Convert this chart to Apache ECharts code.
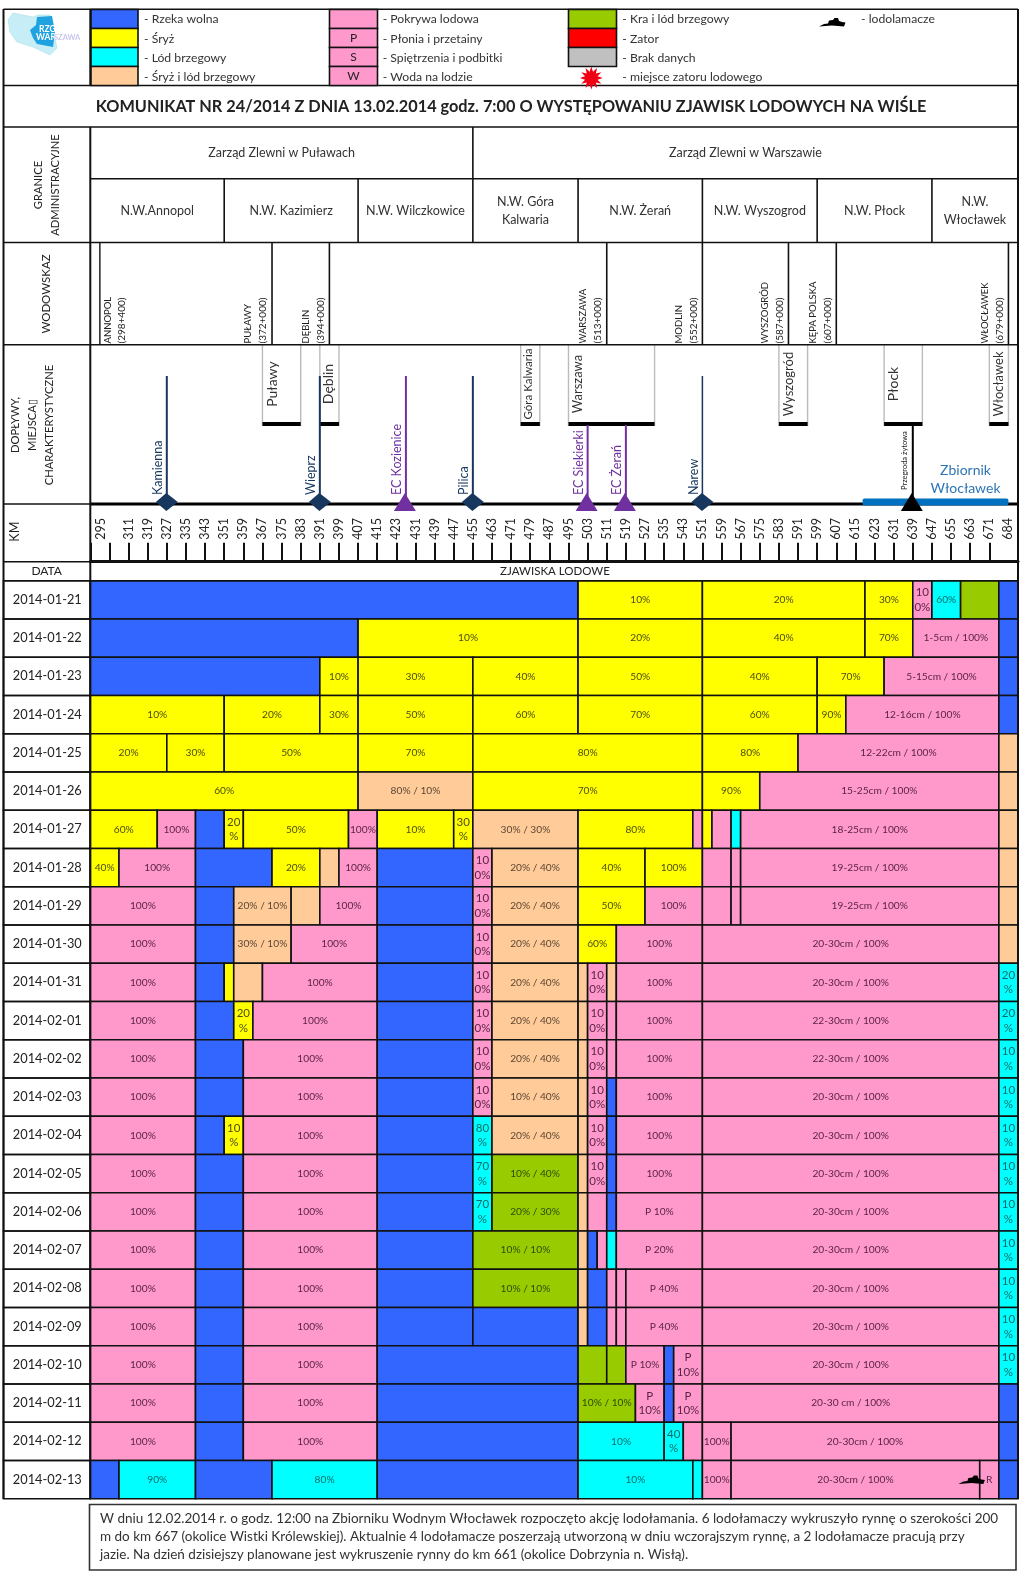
<!DOCTYPE html>
<html>
<head>
<meta charset="utf-8">
<title>Komunikat 24/2014</title>
<style>
  html, body { margin: 0; padding: 0; background: #fff; }
  #chart { width: 1024px; height: 1577px; }
</style>
<script src="https://cdn.jsdelivr.net/npm/echarts@6/dist/echarts.min.js"></script>
</head>
<body>
<div id="chart"></div>
<script>
// river km axis
const kmTicks = [295, 303, 311, 319, 327, 335, 343, 351, 359, 367, 375, 383, 391, 399, 407, 415, 423, 431, 439, 447, 455,
  463, 471, 479, 487, 495, 503, 511, 519, 527, 535, 543, 551, 559, 567, 575, 583, 591, 599, 607, 615, 623, 631, 639, 647,
  655, 663, 671, 683];
const kmLabelAt = [299.5, 311, 319, 327, 335, 343, 351, 359, 367, 375, 383, 391, 399, 407, 415, 423, 431, 439, 447, 455,
  463, 471, 479, 487, 495, 503, 511, 519, 527, 535, 543, 551, 559, 567, 575, 583, 591, 599, 607, 615, 623, 631, 639, 647,
  655, 663, 671, 679];
const kmLabels = ['295', '311', '319', '327', '335', '343', '351', '359', '367', '375', '383', '391', '399', '407', '415',
  '423', '431', '439', '447', '455', '463', '471', '479', '487', '495', '503', '511', '519', '527', '535', '543', '551',
  '559', '567', '575', '583', '591', '599', '607', '615', '623', '631', '639', '647', '655', '663', '671', '684'];

// administrative rows
const regionNames = ['Zarząd Zlewni w Puławach', 'Zarząd Zlewni w Warszawie'];
const regionBounds = [295, 455, 683];
const unitNames = ['N.W.Annopol', 'N.W. Kazimierz', 'N.W. Wilczkowice', 'N.W. Góra\nKalwaria', 'N.W. Żerań',
  'N.W. Wyszogrod', 'N.W. Płock', 'N.W.\nWłocławek'];
const unitBounds = [295, 351, 407, 455, 499, 551, 599, 647, 683];

// gauges
const gaugeNames = ['ANNOPOL', 'PUŁAWY', 'DĘBLIN', 'WARSZAWA', 'MODLIN', 'WYSZOGRÓD', 'KĘPA POLSKA', 'WŁOCŁAWEK'];
const gaugeChainage = ['(298+400)', '(372+000)', '(394+000)', '(513+000)', '(552+000)', '(587+000)', '(607+000)', '(679+000)'];
const gaugeKm = [299, 371, 395, 511, 551, 587, 607, 679];

// towns along the river
const townNames = ['Puławy', 'Dęblin', 'Góra Kalwaria', 'Warszawa', 'Wyszogród', 'Płock', 'Włocławek'];
const townFrom = [367, 391, 475, 495, 583, 627, 671];
const townTo = [383, 399, 483, 531, 595, 643, 679];
const townLabelKm = [371, 394.5, 478, 499, 587, 631, 675];
const townFontSize = [14, 14, 11.5, 13, 13, 14, 13];

// tributaries, power plants, barrage
const inflowNames = ['Kamienna', 'Wieprz', 'EC Kozienice', 'Pilica', 'EC Siekierki', 'EC Żerań', 'Narew', 'Przegroda żytowa'];
const inflowKm = [327, 391, 427, 455, 503, 519, 551, 639];
const inflowKinds = ['river', 'river', 'plant', 'river', 'plant', 'plant', 'river', 'dam'];
const reservoirFrom = 618;
const reservoirTo = 679;

const dates = ['2014-01-21', '2014-01-22', '2014-01-23', '2014-01-24', '2014-01-25', '2014-01-26', '2014-01-27', '2014-01-28',
  '2014-01-29', '2014-01-30', '2014-01-31', '2014-02-01', '2014-02-02', '2014-02-03', '2014-02-04', '2014-02-05', '2014-02-06',
  '2014-02-07', '2014-02-08', '2014-02-09', '2014-02-10', '2014-02-11', '2014-02-12', '2014-02-13'];

// every day: [km where the stretch ends, ice type, label], the first stretch starts at km 295
// B river free, Y frazil, C shore ice, O frazil + shore ice, P ice cover, G floe + shore ice
const iceRows = [
  [[499, 'B'], [551, 'Y', '10%'], [619, 'Y', '20%'], [639, 'Y', '30%'], [647, 'P', '10\n0%'], [659, 'C', '60%'], [675, 'G'], [683, 'B']],
  [[407, 'B'], [499, 'Y', '10%'], [551, 'Y', '20%'], [619, 'Y', '40%'], [639, 'Y', '70%'], [675, 'P', '1-5cm / 100%'], [683, 'B']],
  [[391, 'B'], [407, 'Y', '10%'], [455, 'Y', '30%'], [499, 'Y', '40%'], [551, 'Y', '50%'], [599, 'Y', '40%'], [627, 'Y', '70%'], [675, 'P', '5-15cm / 100%'], [683, 'B']],
  [[351, 'Y', '10%'], [391, 'Y', '20%'], [407, 'Y', '30%'], [455, 'Y', '50%'], [499, 'Y', '60%'], [551, 'Y', '70%'], [599, 'Y', '60%'], [611, 'Y', '90%'], [675, 'P', '12-16cm / 100%'], [683, 'B']],
  [[327, 'Y', '20%'], [351, 'Y', '30%'], [407, 'Y', '50%'], [455, 'Y', '70%'], [551, 'Y', '80%'], [591, 'Y', '80%'], [675, 'P', '12-22cm / 100%'], [683, 'O']],
  [[407, 'Y', '60%'], [455, 'O', '80% / 10%'], [551, 'Y', '70%'], [575, 'Y', '90%'], [675, 'P', '15-25cm / 100%'], [683, 'O']],
  [[323, 'Y', '60%'], [339, 'P', '100%'], [351, 'B'], [359, 'Y', '20\n%'], [403, 'Y', '50%'], [415, 'P', '100%'], [447, 'Y', '10%'], [455, 'Y', '30\n%'], [499, 'O', '30% / 30%'], [547, 'Y', '80%'], [551, 'P'], [555, 'Y'], [563, 'P'], [567, 'C'], [675, 'P', '18-25cm / 100%'], [683, 'O']],
  [[307, 'Y', '40%'], [339, 'P', '100%'], [371, 'B'], [391, 'Y', '20%'], [399, 'O'], [415, 'P', '100%'], [455, 'B'], [463, 'P', '10\n0%'], [499, 'O', '20% / 40%'], [527, 'Y', '40%'], [551, 'Y', '100%'], [563, 'P'], [567, 'P'], [675, 'P', '19-25cm / 100%'], [683, 'O']],
  [[339, 'P', '100%'], [355, 'B'], [379, 'O', '20% / 10%'], [391, 'O'], [415, 'P', '100%'], [455, 'B'], [463, 'P', '10\n0%'], [499, 'O', '20% / 40%'], [527, 'Y', '50%'], [551, 'P', '100%'], [563, 'P'], [567, 'P'], [675, 'P', '19-25cm / 100%'], [683, 'O']],
  [[339, 'P', '100%'], [355, 'B'], [379, 'O', '30% / 10%'], [415, 'P', '100%'], [455, 'B'], [463, 'P', '10\n0%'], [499, 'O', '20% / 40%'], [515, 'Y', '60%'], [551, 'P', '100%'], [675, 'P', '20-30cm / 100%'], [683, 'O']],
  [[339, 'P', '100%'], [351, 'B'], [355, 'Y'], [367, 'O'], [415, 'P', '100%'], [455, 'B'], [463, 'P', '10\n0%'], [499, 'O', '20% / 40%'], [503, 'O'], [511, 'P', '10\n0%'], [515, 'O'], [551, 'P', '100%'], [675, 'P', '20-30cm / 100%'], [683, 'C', '20\n%']],
  [[339, 'P', '100%'], [355, 'B'], [363, 'Y', '20\n%'], [415, 'P', '100%'], [455, 'B'], [463, 'P', '10\n0%'], [499, 'O', '20% / 40%'], [503, 'O'], [511, 'P', '10\n0%'], [515, 'P'], [551, 'P', '100%'], [675, 'P', '22-30cm / 100%'], [683, 'C', '20\n%']],
  [[339, 'P', '100%'], [359, 'B'], [415, 'P', '100%'], [455, 'B'], [463, 'P', '10\n0%'], [499, 'O', '20% / 40%'], [503, 'O'], [511, 'P', '10\n0%'], [515, 'P'], [551, 'P', '100%'], [675, 'P', '22-30cm / 100%'], [683, 'C', '10\n%']],
  [[339, 'P', '100%'], [359, 'B'], [415, 'P', '100%'], [455, 'B'], [463, 'P', '10\n0%'], [499, 'O', '10% / 40%'], [503, 'O'], [511, 'P', '10\n0%'], [515, 'B'], [551, 'P', '100%'], [675, 'P', '20-30cm / 100%'], [683, 'C', '10\n%']],
  [[339, 'P', '100%'], [351, 'B'], [359, 'Y', '10\n%'], [415, 'P', '100%'], [455, 'B'], [463, 'C', '80\n%'], [499, 'O', '20% / 40%'], [503, 'O'], [511, 'P', '10\n0%'], [515, 'B'], [551, 'P', '100%'], [675, 'P', '20-30cm / 100%'], [683, 'C', '10\n%']],
  [[339, 'P', '100%'], [359, 'B'], [415, 'P', '100%'], [455, 'B'], [463, 'C', '70\n%'], [499, 'G', '10% / 40%'], [503, 'O'], [511, 'P', '10\n0%'], [515, 'B'], [551, 'P', '100%'], [675, 'P', '20-30cm / 100%'], [683, 'C', '10\n%']],
  [[339, 'P', '100%'], [359, 'B'], [415, 'P', '100%'], [455, 'B'], [463, 'C', '70\n%'], [499, 'G', '20% / 30%'], [503, 'O'], [511, 'P'], [515, 'B'], [551, 'P', 'P 10%'], [675, 'P', '20-30cm / 100%'], [683, 'C', '10\n%']],
  [[339, 'P', '100%'], [359, 'B'], [415, 'P', '100%'], [455, 'B'], [499, 'G', '10% / 10%'], [503, 'O'], [507, 'B'], [511, 'P'], [515, 'C'], [551, 'P', 'P 20%'], [675, 'P', '20-30cm / 100%'], [683, 'C', '10\n%']],
  [[339, 'P', '100%'], [359, 'B'], [415, 'P', '100%'], [455, 'B'], [499, 'G', '10% / 10%'], [503, 'O'], [511, 'B'], [515, 'P'], [519, 'P'], [551, 'P', 'P 40%'], [675, 'P', '20-30cm / 100%'], [683, 'C', '10\n%']],
  [[339, 'P', '100%'], [359, 'B'], [415, 'P', '100%'], [455, 'B'], [499, 'B'], [503, 'O'], [511, 'B'], [515, 'P'], [519, 'P'], [551, 'P', 'P 40%'], [675, 'P', '20-30cm / 100%'], [683, 'C', '10\n%']],
  [[339, 'P', '100%'], [359, 'B'], [415, 'P', '100%'], [499, 'B'], [511, 'G'], [519, 'G'], [535, 'P', 'P 10%'], [539, 'B'], [551, 'P', 'P\n10%'], [675, 'P', '20-30cm / 100%'], [683, 'C', '10\n%']],
  [[339, 'P', '100%'], [359, 'B'], [415, 'P', '100%'], [499, 'B'], [523, 'G', '10% / 10%'], [535, 'P', 'P\n10%'], [539, 'B'], [551, 'P', 'P\n10%'], [675, 'P', '20-30 cm / 100%'], [683, 'B']],
  [[339, 'P', '100%'], [359, 'B'], [415, 'P', '100%'], [499, 'B'], [535, 'C', '10%'], [543, 'C', '40\n%'], [551, 'P'], [563, 'P', '100%'], [675, 'P', '20-30cm / 100%'], [683, 'B']],
  [[307, 'B'], [339, 'C', '90%'], [371, 'B'], [415, 'C', '80%'], [499, 'B'], [547, 'C', '10%'], [551, 'C'], [563, 'P', '100%'], [667, 'P', '20-30cm / 100%'], [675, 'P', 'R'], [683, 'B']]
];
const icebreakerKm = 663.5;
const icebreakerDay = 23;

const iceColors = { B: '#3366ff', Y: '#ffff00', C: '#00ffff', O: '#ffcc99', P: '#ff99cc', G: '#99cc00' };
const iceTextColors = { B: '#222', Y: '#4d4d14', C: '#0a6b6b', O: '#5c4635', P: '#5c2347', G: '#2f4a06' };

const noteLines = [
  'W dniu 12.02.2014 r. o godz. 12:00 na Zbiorniku Wodnym Włocławek rozpoczęto akcję lodołamania. 6 lodołamaczy wykruszyło rynnę o szerokości 200',
  'm do km 667 (okolice Wistki Królewskiej). Aktualnie 4 lodołamacze poszerzają utworzoną w dniu wczorajszym rynnę, a 2 lodołamacze pracują przy',
  'jazie. Na dzień dzisiejszy planowane jest wykruszenie rynny do km 661 (okolice Dobrzynia n. Wisłą).'
];

const FONT = 'Lato, "Noto Sans", sans-serif';
const INK = '#1a1a1a';
const NAVY = '#17375e';
const PURPLE = '#7030a0';
const LEFT = 90.3;
const RIGHT = 1018;

const chart = echarts.init(document.getElementById('chart'));

// flat list for the ice cells
const iceCells = [];
iceRows.forEach((row, rowIndex) => {
  let from = 295;
  row.forEach((s) => {
    iceCells.push({ from: from, to: s[0], row: rowIndex, type: s[1], label: s[2] });
    from = s[0];
  });
});

function textEl(text, x, y, size, opts) {
  opts = opts || {};
  return {
    type: 'text',
    x: x,
    y: y,
    rotation: opts.rotate ? Math.PI / 2 : 0,
    z2: 5,
    style: {
      text: text,
      fill: opts.color || INK,
      font: (opts.bold ? 'bold ' : '') + size + 'px ' + FONT,
      align: opts.align || 'center',
      verticalAlign: 'middle',
      lineHeight: opts.lineHeight || size * 1.3
    }
  };
}

function renderIce(params, api) {
  const c = iceCells[params.dataIndex];
  const a = api.coord([c.from, c.row]);
  const b = api.coord([c.to, c.row]);
  const h = api.size([0, 1])[1];
  const children = [{
    type: 'rect',
    shape: { x: a[0], y: a[1] - h / 2, width: b[0] - a[0], height: h },
    style: { fill: iceColors[c.type], stroke: '#111', lineWidth: 1.6 }
  }];
  if (c.label) {
    const wrapped = c.label.indexOf('\n') >= 0;
    children.push(textEl(c.label, (a[0] + b[0]) / 2, a[1], wrapped ? 11.5 : 10.2, {
      color: iceTextColors[c.type],
      lineHeight: 14.5
    }));
  }
  return { type: 'group', children: children };
}

function renderDateCell(params, api) {
  const y = api.coord([295, params.dataIndex])[1];
  const h = api.size([0, 1])[1];
  return {
    type: 'rect',
    shape: { x: 3.5, y: y - h / 2, width: LEFT - 3.5, height: h },
    style: { fill: 'none', stroke: '#111', lineWidth: 1.6 }
  };
}

function renderIcebreaker(params, api) {
  const p = api.coord([icebreakerKm, icebreakerDay]);
  return shipEl(p[0], p[1]);
}

function shipEl(x, y) {
  const shape = [[-13, 4.5], [-8, 2], [-4, 1.5], [-3, -1.5], [1, -2], [2.5, -4], [6, -4], [7, -1], [10, 0], [13.5, 0.5], [12, 4.5], [0, 3.5]];
  return {
    type: 'polygon',
    z2: 6,
    shape: { points: shape.map((q) => [x + q[0], y + q[1]]) },
    style: { fill: '#000' }
  };
}

function vLine(x, y1, y2, color, width) {
  return { type: 'line', z2: 3, shape: { x1: x, y1: y1, x2: x, y2: y2 }, style: { stroke: color, lineWidth: width } };
}

// admin cells: the y value of the header grid is counted in rows of the sheet
function renderBand(names, bounds, top, bottom) {
  return function (params, api) {
    const i = params.dataIndex;
    const a = api.coord([bounds[i], top]);
    const b = api.coord([bounds[i + 1], bottom]);
    const two = names[i].indexOf('\n') >= 0;
    return {
      type: 'group',
      children: [
        vLine(b[0], a[1], b[1], '#111', 1.6),
        textEl(names[i], (a[0] + b[0]) / 2, (a[1] + b[1]) / 2, 12.5, { color: '#333', lineHeight: two ? 18 : 16 })
      ]
    };
  };
}

function renderGauge(params, api) {
  const i = params.dataIndex;
  const top = api.coord([gaugeKm[i], 243]);
  const bot = api.coord([gaugeKm[i], 344.5]);
  const x = top[0];
  const dx1 = i === 0 ? 8 : -23.7;
  const dx2 = i === 0 ? 22 : -9;
  return {
    type: 'group',
    children: [
      vLine(x, top[1], bot[1], '#111', i === 0 ? 1.4 : 1.6),
      textEl(gaugeNames[i], x + dx1, bot[1] - 1, 9.5, { rotate: true, align: 'left', color: '#222' }),
      textEl(gaugeChainage[i], x + dx2, bot[1] - 1, 10, { rotate: true, align: 'left', color: '#222' })
    ]
  };
}

function renderTown(params, api) {
  const i = params.dataIndex;
  const a = api.coord([townFrom[i], 345]);
  const b = api.coord([townTo[i], 426]);
  const label = api.coord([townLabelKm[i], 384]);
  return {
    type: 'group',
    children: [
      { type: 'rect', shape: { x: a[0], y: a[1], width: b[0] - a[0], height: b[1] - a[1] }, style: { fill: '#fff' } },
      vLine(a[0], a[1], b[1], '#bbb', 1.4),
      vLine(b[0], a[1], b[1], '#bbb', 1.4),
      { type: 'rect', z2: 4, shape: { x: a[0], y: b[1] - 4, width: b[0] - a[0], height: 4 }, style: { fill: '#000' } },
      textEl(townNames[i], label[0], label[1], townFontSize[i], { rotate: true, color: '#333' })
    ]
  };
}

function renderInflow(params, api) {
  const i = params.dataIndex;
  const kind = inflowKinds[i];
  const p = api.coord([inflowKm[i], 502]);
  const x = p[0];
  const color = kind === 'river' ? NAVY : kind === 'plant' ? PURPLE : '#000';
  // Kozienice and the rivers reach higher, the rest hang under the town bars
  const fromBar = i === 4 || i === 5 || kind === 'dam';
  const top = api.coord([inflowKm[i], fromBar ? 425 : 376])[1];
  const children = [vLine(x, top, p[1], color, i === 6 ? 1.5 : 2)];
  if (kind === 'river') {
    children.push({
      type: 'polygon',
      z2: 6,
      shape: { points: [[x - 11, p[1]], [x - 0.5, p[1] - 9], [x + 11, p[1]], [x - 0.5, p[1] + 9]] },
      style: { fill: color }
    });
  } else {
    children.push({
      type: 'polygon',
      z2: 6,
      shape: { points: [[x - 1, p[1] - 9], [x + 10, p[1] + 9], [x - 12, p[1] + 9]] },
      style: { fill: color }
    });
  }
  const labelX = x - 8.5;
  if (kind === 'dam') {
    children.push(textEl(inflowNames[i], labelX, p[1] - 12, 7.5, { rotate: true, align: 'left', color: '#222' }));
  } else {
    children.push(textEl(inflowNames[i], labelX, p[1] - 7, 12.5, { rotate: true, align: 'left', color: color }));
  }
  return { type: 'group', children: children };
}

function renderReservoir(params, api) {
  const start = api.coord([295, 504]);
  const end = api.coord([683, 504]);
  const a = api.coord([reservoirFrom, 502]);
  const b = api.coord([reservoirTo, 502]);
  return {
    type: 'group',
    children: [
      { type: 'line', shape: { x1: start[0], y1: start[1], x2: end[0], y2: end[1] }, style: { stroke: '#000', lineWidth: 3 } },
      { type: 'rect', z2: 2, shape: { x: a[0], y: a[1] - 3.5, width: b[0] - a[0], height: 7, r: 2 }, style: { fill: '#0070c0' } },
      textEl('Zbiornik', (a[0] + b[0]) / 2 + 30, 470, 14, { color: '#2e75b6' }),
      textEl('Włocławek', (a[0] + b[0]) / 2 + 30, 488.3, 14, { color: '#2e75b6' })
    ]
  };
}

function headerSeries(id, list, renderItem, z) {
  return {
    id: id,
    type: 'custom',
    xAxisIndex: 1,
    yAxisIndex: 1,
    coordinateSystem: 'cartesian2d',
    clip: false,
    silent: true,
    z: z || 3,
    renderItem: renderItem,
    data: list.map((v, i) => [295, 130, i])
  };
}

// legend, frame and everything that does not sit on a scale
function legendGraphics() {
  const rowsY = [9.5, 28.5, 47.5, 66.5, 85.5];
  const gfx = [];
  const swatch = (x1, x2, row, fill, letter) => {
    gfx.push({ type: 'rect', z: 8, shape: { x: x1, y: rowsY[row], width: x2 - x1, height: rowsY[row + 1] - rowsY[row] }, style: { fill: fill, stroke: '#111', lineWidth: 1.6 } });
    if (letter) {
      gfx.push({ type: 'text', z: 9, x: (x1 + x2) / 2, y: (rowsY[row] + rowsY[row + 1]) / 2, style: { text: letter, font: '12px ' + FONT, fill: '#222', align: 'center', verticalAlign: 'middle' } });
    }
  };
  const label = (x, y, t) => gfx.push({ type: 'text', z: 9, x: x, y: y, style: { text: t, font: '12.2px ' + FONT, fill: '#333', verticalAlign: 'middle' } });
  const legendY = [19.3, 38.7, 57.7, 77];
  ['#3366ff', '#ffff00', '#00ffff', '#ffcc99'].forEach((c, i) => swatch(91, 138, i, c));
  ['', 'P', 'S', 'W'].forEach((l, i) => swatch(329.5, 377.5, i, '#ff99cc', l));
  ['#99cc00', '#ff0000', '#c0c0c0'].forEach((c, i) => swatch(568.5, 616.5, i, c));
  ['- Rzeka wolna', '- Śryż', '- Lód brzegowy', '- Śryż i lód brzegowy'].forEach((t, i) => label(144, legendY[i], t));
  ['- Pokrywa lodowa', '- Płonia i przetainy', '- Spiętrzenia i podbitki', '- Woda na lodzie'].forEach((t, i) => label(382.7, legendY[i], t));
  ['- Kra i lód brzegowy', '- Zator', '- Brak danych', '- miejsce zatoru lodowego'].forEach((t, i) => label(622.3, legendY[i], t));
  label(861, legendY[0], '- lodolamacze');

  const ship = shipEl(832, 22);
  ship.z = 9;
  gfx.push(ship);

  // red burst of the legend
  const burst = [];
  for (let i = 0; i < 24; i++) {
    const r = i % 2 ? 6.5 : 11.5;
    const t = i * Math.PI / 12;
    burst.push([591.3 + r * Math.cos(t), 78 + r * Math.sin(t)]);
  }
  gfx.push({ type: 'polygon', z: 9, shape: { points: burst }, style: { fill: '#f00012' } });

  // logo
  gfx.push({ type: 'polygon', z: 9, shape: { points: [[8, 20], [13, 13], [33, 17], [38, 15], [50, 15], [53, 28], [57, 48], [50, 55], [33, 47], [17, 42], [10, 32]] }, style: { fill: '#c7eef6', stroke: '#a9dfe8', lineWidth: 0.6 } });
  gfx.push({ type: 'polygon', z: 9, shape: { points: [[37, 17], [52, 16], [55, 32], [53, 47], [37, 44], [33, 38], [30, 30], [36, 25]] }, style: { fill: '#1fa2e0' } });
  gfx.push({ type: 'text', z: 9, x: 39, y: 29, style: { text: 'RZGW', font: 'bold 8.5px ' + FONT, fill: '#fff', verticalAlign: 'middle' } });
  gfx.push({ type: 'text', z: 9, x: 36, y: 37.5, style: { text: 'WAR', font: 'bold 8.5px ' + FONT, fill: '#fff', verticalAlign: 'middle' } });
  gfx.push({ type: 'text', z: 9, x: 54, y: 37.5, style: { text: 'SZAWA', font: 'bold 7.5px ' + FONT, fill: '#c9c6ee', verticalAlign: 'middle' } });

  // frame
  const hLines = [[3.5, RIGHT, 9.2], [3.5, RIGHT, 85.5], [3.5, RIGHT, 127], [LEFT, RIGHT, 178.7], [3.5, RIGHT, 242.5], [3.5, RIGHT, 344.7], [3.5, LEFT, 504], [3.5, LEFT, 561.7], [3.5, RIGHT, 580.7]];
  hLines.forEach((l) => gfx.push({ type: 'line', z: 7, shape: { x1: l[0], y1: l[2], x2: l[1], y2: l[2] }, style: { stroke: '#111', lineWidth: 1.5 } }));
  [[3.5, 9, 1499], [LEFT, 127, 1499], [LEFT, 9, 85.5], [RIGHT, 9, 1499]].forEach((l) => gfx.push({ type: 'line', z: 7, shape: { x1: l[0], y1: l[1], x2: l[0], y2: l[2] }, style: { stroke: '#111', lineWidth: 2 } }));

  const sideText = (t, x, y, size) => gfx.push({ type: 'text', z: 9, x: x, y: y, rotation: Math.PI / 2, style: { text: t, font: size + 'px ' + FONT, fill: '#222', align: 'center', verticalAlign: 'middle' } });
  sideText('GRANICE', 38, 185, 11.2);
  sideText('ADMINISTRACYJNE', 55, 185, 11.2);
  sideText('WODOWSKAZ', 46.7, 294, 11.5);
  sideText('DOPŁYWY,', 15, 425, 11.2);
  sideText('MIEJSCA▯', 32, 425, 11.2);
  sideText('CHARAKTERYSTYCZNE', 49, 425, 11.2);
  sideText('KM', 15, 531.7, 12.5);

  const midText = (t, x, y, font) => gfx.push({ type: 'text', z: 9, x: x, y: y, style: { text: t, font: font, fill: '#222', align: 'center', verticalAlign: 'middle' } });
  midText('DATA', 46.7, 571.5, '12px ' + FONT);
  midText('ZJAWISKA LODOWE', 555, 571, '11.5px ' + FONT);
  midText('KOMUNIKAT NR 24/2014 Z DNIA 13.02.2014 godz. 7:00 O WYSTĘPOWANIU ZJAWISK LODOWYCH NA WIŚLE', 511, 106.5, 'bold 16.3px ' + FONT);

  // note under the table
  gfx.push({ type: 'rect', z: 8, shape: { x: 89.5, y: 1504.5, width: 926.5, height: 65.5 }, style: { fill: '#fff', stroke: '#333', lineWidth: 1.6 } });
  noteLines.forEach((t, i) => gfx.push({ type: 'text', z: 9, x: 100, y: 1518.7 + i * 18.2, style: { text: t, font: '13.5px ' + FONT, fill: '#333', verticalAlign: 'middle' } }));
  return gfx;
}

const option = {
  animation: false,
  backgroundColor: '#fff',
  textStyle: { fontFamily: FONT },
  graphic: legendGraphics(),
  grid: [
    { left: LEFT, top: 580.7, width: RIGHT - LEFT, height: 918 },
    { left: LEFT, top: 127, width: RIGHT - LEFT, height: 434.7 }
  ],
  xAxis: [
    { gridIndex: 0, type: 'value', min: 295, max: 683, show: false },
    {
      gridIndex: 1,
      type: 'value',
      min: 295,
      max: 683,
      position: 'bottom',
      z: 6,
      splitLine: { show: false },
      axisLine: { show: true, lineStyle: { color: '#111', width: 3 } },
      axisTick: { show: true, customValues: kmTicks, inside: true, length: 19, lineStyle: { color: '#111', width: 2 } },
      axisLabel: {
        customValues: kmLabelAt,
        formatter: (v) => kmLabels[kmLabelAt.indexOf(v)],
        inside: true,
        rotate: 90,
        margin: 22,
        fontSize: 12.5,
        fontFamily: FONT,
        color: '#222',
        hideOverlap: false
      }
    }
  ],
  yAxis: [
    {
      gridIndex: 0,
      type: 'category',
      inverse: true,
      data: dates,
      z: 6,
      axisLine: { show: false },
      axisTick: { show: false },
      axisLabel: { margin: 43, align: 'center', fontSize: 12.8, fontFamily: FONT, color: '#222', interval: 0 }
    },
    { gridIndex: 1, type: 'value', min: 127, max: 561.7, inverse: true, show: false }
  ],
  series: [
    {
      id: 'dateCells',
      type: 'custom',
      xAxisIndex: 0,
      yAxisIndex: 0,
      clip: false,
      silent: true,
      z: 1,
      renderItem: renderDateCell,
      data: dates.map((d, i) => [295, i])
    },
    {
      id: 'ice',
      type: 'custom',
      xAxisIndex: 0,
      yAxisIndex: 0,
      clip: false,
      silent: true,
      z: 3,
      renderItem: renderIce,
      data: iceCells.map((c) => [c.from, c.row])
    },
    {
      id: 'icebreaker',
      type: 'custom',
      xAxisIndex: 0,
      yAxisIndex: 0,
      clip: false,
      silent: true,
      z: 4,
      renderItem: renderIcebreaker,
      data: [[icebreakerKm, icebreakerDay]]
    },
    headerSeries('regions', regionNames, renderBand(regionNames, regionBounds, 127, 178.7)),
    headerSeries('units', unitNames, renderBand(unitNames, unitBounds, 178.7, 242.5)),
    headerSeries('gauges', gaugeNames, renderGauge),
    headerSeries('towns', townNames, renderTown, 3),
    headerSeries('reservoir', ['Zbiornik Włocławek'], renderReservoir, 4),
    headerSeries('inflows', inflowNames, renderInflow, 5)
  ]
};

chart.setOption(option);
</script>
</body>
</html>
